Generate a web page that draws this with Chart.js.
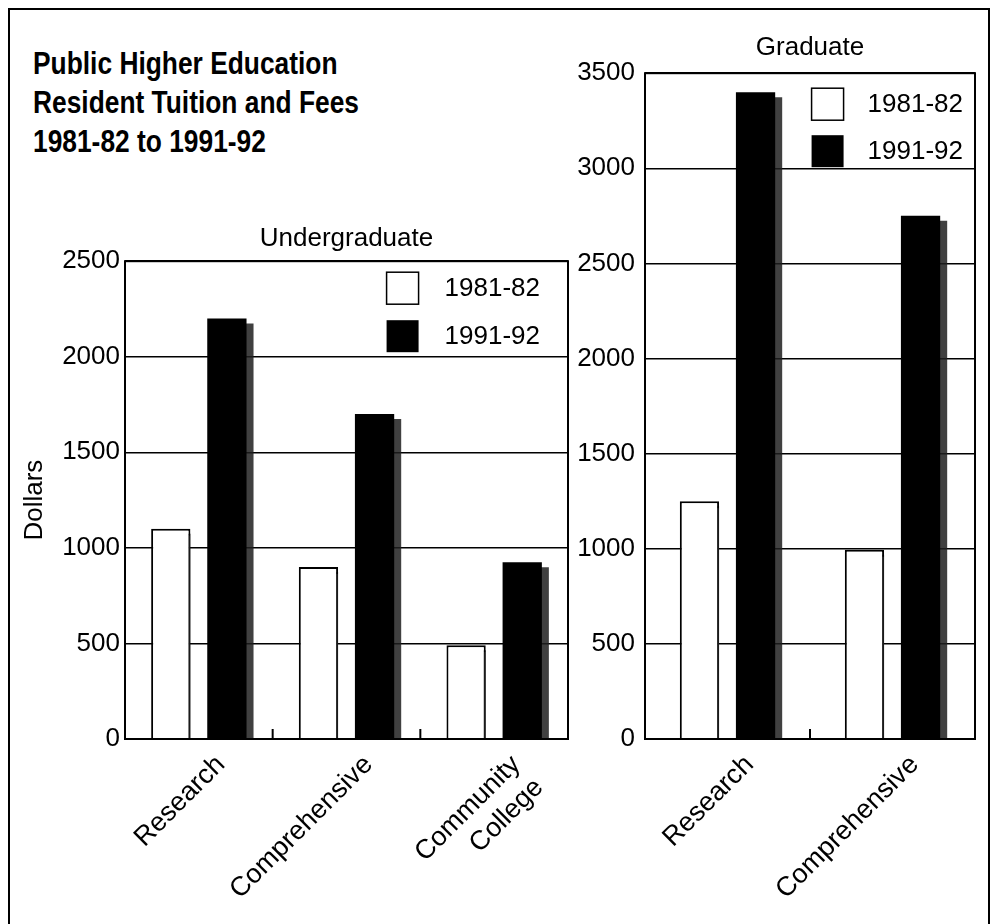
<!DOCTYPE html>
<html>
<head>
<meta charset="utf-8">
<script src="https://cdn.jsdelivr.net/npm/chart.js@4.4.1/dist/chart.umd.min.js"></script>
<style>
  html, body { margin: 0; padding: 0; background: #fff; }
  body { width: 994px; height: 924px; position: relative; overflow: hidden; font-family: "Liberation Sans", Arial, sans-serif; }
  .frame { position: absolute; left: 8px; top: 8px; width: 978px; height: 940px; border: 2px solid #000; border-bottom: none; }
  .title { position: absolute; left: 33px; top: 44px; font-weight: bold; font-size: 31px; line-height: 39px; color: #000; white-space: nowrap; transform: scaleX(0.85); transform-origin: 0 0; }
  .wrap { position: absolute; top: 0; height: 924px; }
  #ugWrap { left: 0; width: 590px; }
  #grWrap { left: 560px; width: 434px; }
</style>
</head>
<body>
<div class="frame"></div>
<div class="title">Public Higher Education<br>Resident Tuition and Fees<br>1981-82 to 1991-92</div>
<div class="wrap" id="ugWrap"><canvas id="ugChart" width="590" height="924"></canvas></div>
<div class="wrap" id="grWrap"><canvas id="grChart" width="434" height="924"></canvas></div>

<script>
// values (dollars)
const seriesLabels = ['1981-82', '1991-92'];

const ugCategories = ['Research', 'Comprehensive', ['Community', 'College']];
const ug1981 = [1100, 900, 490];
const ug1991 = [2200, 1700, 925];
const ugTicks = [0, 500, 1000, 1500, 2000, 2500];

const grCategories = ['Research', 'Comprehensive'];
const gr1981 = [1250, 995];
const gr1991 = [3400, 2750];
const grTicks = [0, 500, 1000, 1500, 2000, 2500, 3000, 3500];

const FONT = '"Liberation Sans", Arial, sans-serif';

// stippled drop shadow to the right of each bar
const barShadow = {
  id: 'barShadow',
  beforeDatasetsDraw(chart) {
    const ctx = chart.ctx;
    ctx.save();
    ctx.shadowColor = 'rgba(30,30,30,0.85)';
    ctx.shadowOffsetX = 7;
    ctx.shadowOffsetY = 5;
    ctx.shadowBlur = 0;
  },
  afterDatasetsDraw(chart) {
    chart.ctx.restore();
  }
};

// box round the plot + short inward ticks between categories
const plotFrame = {
  id: 'plotFrame',
  afterDraw(chart) {
    const { ctx, chartArea: a, scales } = chart;
    const x = scales.x;
    ctx.save();
    ctx.strokeStyle = '#000';
    ctx.lineWidth = 2;
    ctx.strokeRect(a.left, a.top, a.right - a.left, a.bottom - a.top);
    for (let i = 1; i < x.ticks.length; i++) {
      const px = (x.getPixelForTick(i - 1) + x.getPixelForTick(i)) / 2;
      ctx.beginPath();
      ctx.moveTo(px, a.bottom);
      ctx.lineTo(px, a.bottom - 10);
      ctx.stroke();
    }
    ctx.restore();
  }
};

// legend drawn inside the plot, top right
const innerLegend = {
  id: 'innerLegend',
  afterDraw(chart, args, o) {
    const { ctx, chartArea: a } = chart;
    ctx.save();
    ctx.font = o.fontSize + 'px ' + FONT;
    const textW = Math.max(...chart.data.datasets.map(d => ctx.measureText(d.label).width));
    const textX = a.right - o.right - textW;
    const boxX = textX - o.gap - o.box;
    chart.data.datasets.forEach((d, i) => {
      const y = a.top + o.top + i * o.row;
      ctx.fillStyle = d.backgroundColor;
      ctx.fillRect(boxX, y, o.box, o.box);
      if (d.borderWidth) {
        ctx.lineWidth = 1.5;
        ctx.strokeStyle = '#000';
        ctx.strokeRect(boxX, y, o.box, o.box);
      }
      ctx.fillStyle = '#000';
      ctx.textAlign = 'left';
      ctx.textBaseline = 'middle';
      ctx.fillText(d.label, textX, y + o.box / 2 + 1);
    });
    ctx.restore();
  }
};

function makeChart(id, cfg) {
  const ticks = cfg.ticks;
  return new Chart(document.getElementById(id), {
    type: 'bar',
    data: {
      labels: cfg.categories,
      datasets: [
        {
          label: seriesLabels[0],
          data: cfg.old,
          backgroundColor: '#ffffff',
          borderColor: '#000000',
          borderWidth: 2,
          clip: 0
        },
        {
          label: seriesLabels[1],
          data: cfg.recent,
          backgroundColor: '#000000',
          borderWidth: 0,
          clip: 0
        }
      ]
    },
    options: {
      responsive: false,
      animation: false,
      layout: { padding: cfg.padding },
      datasets: {
        bar: { categoryPercentage: cfg.catPct, barPercentage: 0.7 }
      },
      scales: {
        x: {
          grid: { display: false },
          border: { display: false },
          ticks: {
            color: '#000',
            font: { family: FONT, size: 27 },
            minRotation: 45,
            maxRotation: 45,
            autoSkip: false,
            padding: 2,
            labelOffset: 22
          },
          afterFit(scale) { scale.height = 185; }
        },
        y: {
          min: ticks[0],
          max: ticks[ticks.length - 1],
          border: { display: false },
          grid: { color: '#000', lineWidth: 1.5, drawTicks: false },
          ticks: {
            stepSize: ticks[1] - ticks[0],
            color: '#000',
            font: { family: FONT, size: 26 },
            padding: cfg.tickPad,
            callback: v => String(v)
          },
          title: {
            display: !!cfg.yTitle,
            text: cfg.yTitle || '',
            color: '#000',
            font: { family: FONT, size: 26 },
            padding: 4
          },
          afterFit(scale) { scale.width = cfg.yWidth; }
        }
      },
      plugins: {
        legend: { display: false },
        tooltip: { enabled: false },
        title: {
          display: true,
          text: cfg.title,
          fullSize: false,
          color: '#000',
          font: { family: FONT, size: 26, weight: 'normal' },
          padding: cfg.titlePad
        },
        innerLegend: cfg.legend
      }
    },
    plugins: [barShadow, plotFrame, innerLegend]
  });
}

makeChart('ugChart', {
  categories: ugCategories,
  old: ug1981,
  recent: ug1991,
  ticks: ugTicks,
  title: 'Undergraduate',
  titlePad: { top: 223, bottom: 7 },
  yTitle: 'Dollars',
  yWidth: 110,
  tickPad: 5,
  padding: { left: 15, right: 22, top: 0, bottom: 0 },
  catPct: 0.76,
  legend: { fontSize: 26, box: 32, gap: 26, right: 28, top: 11, row: 48 }
});

makeChart('grChart', {
  categories: grCategories,
  old: gr1981,
  recent: gr1991,
  ticks: grTicks,
  title: 'Graduate',
  titlePad: { top: 32, bottom: 10 },
  yWidth: 85,
  tickPad: 10,
  padding: { left: 0, right: 19, top: 0, bottom: 0 },
  catPct: 0.68,
  legend: { fontSize: 26, box: 32, gap: 24, right: 12, top: 15, row: 47 }
});
</script>
</body>
</html>
